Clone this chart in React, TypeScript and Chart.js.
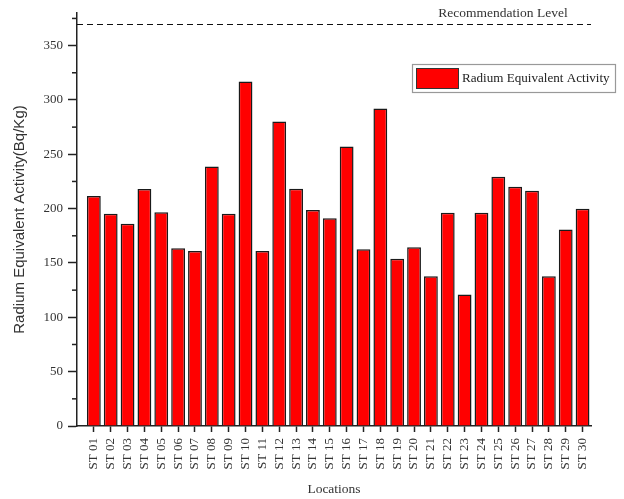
import React, { useEffect, useRef } from "react";
import { Chart, registerables } from "chart.js";

Chart.register(...registerables);

const categories = [
  "ST 01", "ST 02", "ST 03", "ST 04", "ST 05", "ST 06", "ST 07", "ST 08", "ST 09", "ST 10",
  "ST 11", "ST 12", "ST 13", "ST 14", "ST 15", "ST 16", "ST 17", "ST 18", "ST 19", "ST 20",
  "ST 21", "ST 22", "ST 23", "ST 24", "ST 25", "ST 26", "ST 27", "ST 28", "ST 29", "ST 30",
];

const raEqValues = [
  211.6, 195.4, 186.2, 218.0, 196.6, 163.5, 161.0, 238.8, 195.4, 317.0,
  161.0, 280.2, 218.3, 198.7, 191.1, 257.2, 162.6, 292.1, 154.0, 164.4,
  137.8, 196.3, 121.0, 196.3, 229.4, 220.2, 216.5, 137.8, 180.7, 200.0,
];

const RECOMMENDATION = 370;
const RECOMMENDATION_LABEL = "Recommendation Level";
const SERIES_LABEL = "Radium Equivalent Activity";
const Y_TITLE = "Radium Equivalent Activity(Bq/Kg)";
const X_TITLE = "Locations";
const Y_MAX = 380;
const Y_STEP = 25;
const Y_LABEL_STEP = 50;

const serif = "'Liberation Serif', 'Times New Roman', serif";
const sans = "'Liberation Sans', Arial, sans-serif";

export default function App() {
  const ref = useRef<HTMLCanvasElement | null>(null);

  useEffect(() => {
    if (!ref.current) return;

    const extras = {
      id: "extras",
      afterDraw(chart: any) {
        const ctx = chart.ctx;
        const ys = chart.scales.y;
        const area = chart.chartArea;
        ctx.save();
        // minor ticks on y axis
        ctx.strokeStyle = "#222";
        ctx.lineWidth = 1.5;
        for (let v = Y_STEP; v <= Y_MAX; v += Y_LABEL_STEP) {
          const py = ys.getPixelForValue(v);
          ctx.beginPath();
          ctx.moveTo(area.left - 5, py);
          ctx.lineTo(area.left, py);
          ctx.stroke();
        }
        // recommendation line
        const ry = Math.round(ys.getPixelForValue(RECOMMENDATION)) + 0.5;
        ctx.setLineDash([6, 4]);
        ctx.lineWidth = 1.2;
        ctx.strokeStyle = "#111";
        ctx.beginPath();
        ctx.moveTo(area.left, ry);
        ctx.lineTo(area.right, ry);
        ctx.stroke();
        ctx.setLineDash([]);
        ctx.fillStyle = "#333";
        ctx.font = `13.5px ${serif}`;
        ctx.textAlign = "center";
        ctx.textBaseline = "middle";
        ctx.fillText(RECOMMENDATION_LABEL, 503, ry - 11);
        // legend
        ctx.strokeStyle = "#999";
        ctx.lineWidth = 1.2;
        ctx.strokeRect(412.5, 64.5, 203, 28);
        ctx.fillStyle = "#ff0000";
        ctx.fillRect(416, 68, 43, 21);
        ctx.strokeStyle = "#333";
        ctx.lineWidth = 1;
        ctx.strokeRect(416.5, 68.5, 42, 20);
        ctx.fillStyle = "#222";
        ctx.textAlign = "left";
        ctx.font = `13.1px ${serif}`;
        ctx.fillText(SERIES_LABEL, 462, 79);
        ctx.restore();
      },
    };

    const chart = new Chart(ref.current, {
      type: "bar",
      data: {
        datasets: [
          {
            label: SERIES_LABEL,
            data: raEqValues.map((v, i) => ({ x: i + 1, y: v })),
            backgroundColor: "#ff0000",
            borderColor: "#1a1a1a",
            borderWidth: 1.5,
            barPercentage: 0.82,
            categoryPercentage: 1,
          },
        ],
      },
      options: {
        responsive: false,
        animation: false,
        layout: { padding: { top: 13, right: 33, left: 0, bottom: 1 } },
        plugins: {
          legend: { display: false },
          tooltip: { enabled: false },
        },
        scales: {
          x: {
            type: "linear",
            min: 0,
            max: categories.length + 0.5,
            offset: false,
            grid: {
              offset: false,
              drawOnChartArea: false,
              drawTicks: true,
              tickLength: 6,
              tickColor: "#222",
              tickWidth: 1.5,
            },
            border: { display: true, color: "#222", width: 1.5 },
            afterBuildTicks: (s: any) => {
              s.ticks = categories.map((_, i) => ({ value: i + 1 }));
            },
            afterFit: (s: any) => {
              s.height = 72;
            },
            ticks: {
              autoSkip: false,
              minRotation: 90,
              maxRotation: 90,
              padding: 6,
              color: "#333",
              font: { family: serif, size: 13 },
              callback: (v: any) => categories[Number(v) - 1] ?? "",
            },
            title: {
              display: true,
              text: X_TITLE,
              color: "#333",
              font: { family: serif, size: 13.5 },
              padding: { top: 0, bottom: 0 },
            },
          },
          y: {
            type: "linear",
            min: 0,
            max: Y_MAX,
            grid: {
              drawOnChartArea: false,
              drawTicks: true,
              tickLength: 9,
              tickWidth: 1.5,
              tickColor: (c: any) =>
                c.tick && c.tick.value % Y_LABEL_STEP === 0 ? "#222" : "rgba(0,0,0,0)",
            },
            border: { display: true, color: "#222", width: 1.5 },
            afterFit: (s: any) => {
              s.width = 77;
            },
            ticks: {
              stepSize: Y_STEP,
              includeBounds: false,
              padding: 5,
              color: "#333",
              font: { family: serif, size: 13 },
              callback: (v: any) => (Number(v) % Y_LABEL_STEP === 0 ? String(v) : ""),
            },
            title: {
              display: true,
              text: Y_TITLE,
              color: "#333",
              font: { family: sans, size: 15 },
              padding: { top: 11, bottom: 0 },
            },
          },
        },
      },
      plugins: [extras],
    } as any);

    return () => chart.destroy();
  }, []);

  return (
    <div style={{ position: "absolute", left: 0, top: 0, width: 624, height: 499, background: "#fff" }}>
      <canvas ref={ref} width={624} height={499} style={{ display: "block" }} />
    </div>
  );
}
